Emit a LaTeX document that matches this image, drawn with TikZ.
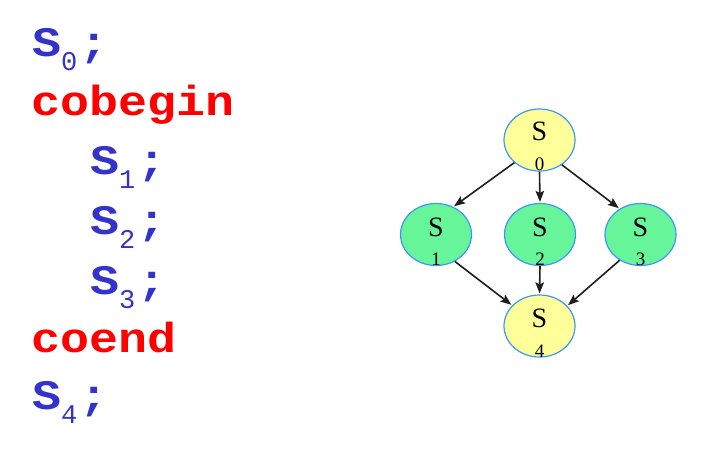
\documentclass[tikz,border=0pt]{standalone}
\usepackage{fontspec}
\usetikzlibrary{shapes.geometric,arrows.meta}
\newfontfamily\codefont{Liberation Mono}
\newfontfamily\serfont{Liberation Serif}
\definecolor{codeblue}{RGB}{51,51,204}
\definecolor{codered}{RGB}{255,0,0}
\definecolor{nodeyellow}{RGB}{255,255,153}
\definecolor{nodegreen}{RGB}{102,245,153}
\definecolor{nodeborder}{RGB}{60,150,255}
\definecolor{arrowgray}{RGB}{30,30,30}
\newcommand{\wide}[1]{\scalebox{1.15}[1]{#1}}
\newcommand{\stmt}[1]{\wide{\bfseries S}\raisebox{-14pt}{\fontsize{27}{27}\selectfont #1}\hspace{2pt}\wide{\bfseries ;}}
\tikzset{
  code/.style={anchor=base west, inner sep=0pt, font=\codefont\fontsize{42}{42}\selectfont},
  ell/.style={ellipse, draw=nodeborder, line width=1.2pt, minimum width=71pt, minimum height=62pt, inner sep=0pt},
  letter/.style={font=\serfont\fontsize{28}{28}\selectfont, anchor=base, inner sep=0pt},
  idx/.style={font=\serfont\fontsize{19}{19}\selectfont, anchor=base, inner sep=0pt},
  arr/.style={draw=arrowgray, line width=1.6pt, -{Stealth[length=11pt,width=8.5pt,inset=2pt]}, shorten >=1pt}
}
\begin{document}
\begin{tikzpicture}[x=1pt,y=-1pt]
\useasboundingbox (0,0) rectangle (709,450);
% code text
\node[code, text=codeblue] (l0) at (32,56) {\stmt{0}};
\node[code, text=codered] (l1) at (31,115) {\wide{\bfseries cobegin}};
\node[code, text=codeblue] (l2) at (90,174) {\stmt{1}};
\node[code, text=codeblue] (l3) at (90,234) {\stmt{2}};
\node[code, text=codeblue] (l4) at (90,294) {\stmt{3}};
\node[code, text=codered] (l5) at (31,352) {\wide{\bfseries coend}};
\node[code, text=codeblue] (l6) at (32,409) {\stmt{4}};
% graph
\node[ell, fill=nodeyellow] (s0) at (539.5,140) {};
\node[ell, fill=nodegreen] (s1) at (436,234.5) {};
\node[ell, fill=nodegreen] (s2) at (540,234.5) {};
\node[ell, fill=nodegreen] (s3) at (640.5,234.5) {};
\node[ell, fill=nodeyellow] (s4) at (539.5,326) {};
\node[letter] (t0) at (539.5,140) {S};
\node[idx] (n0) at (539.5,170) {0};
\node[letter] (t1) at (436,236) {S};
\node[idx] (n1) at (436,265) {1};
\node[letter] (t2) at (540,236) {S};
\node[idx] (n2) at (540,265) {2};
\node[letter] (t3) at (640.5,236) {S};
\node[idx] (n3) at (640.5,265) {3};
\node[letter] (t4) at (539.5,327) {S};
\node[idx] (n4) at (539.5,357) {4};
% arrows
\draw[arr] (s0.222) -- (s1.58);
\draw[arr] (s0.south) -- (s2.north);
\draw[arr] (s0.312) -- (s3.129);
\draw[arr] (s1.305) -- (s4.143);
\draw[arr] (s2.south) -- (s4.north);
\draw[arr] (s3.231) -- (s4.36);
\end{tikzpicture}
\end{document}
